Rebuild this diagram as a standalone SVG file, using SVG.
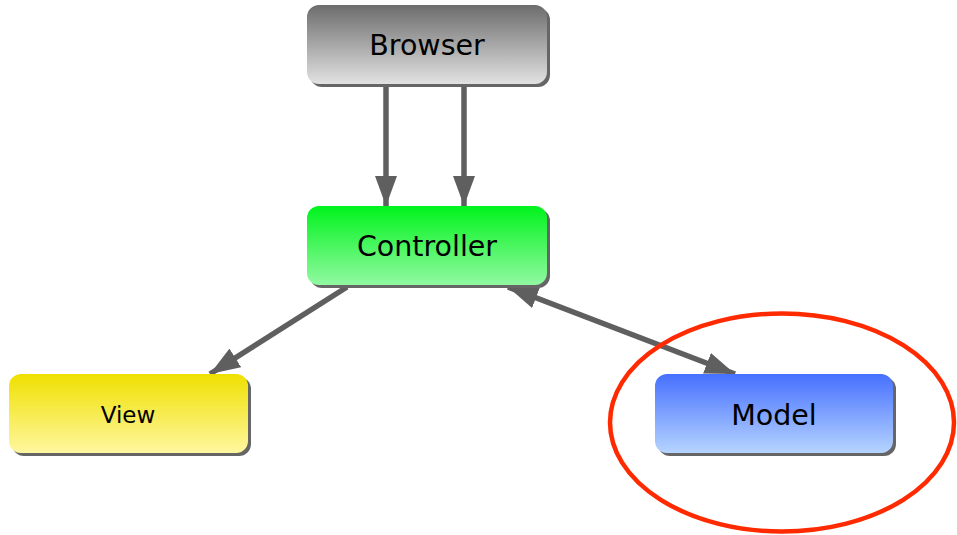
<svg xmlns="http://www.w3.org/2000/svg" width="957" height="535" viewBox="0 0 957 535">
<style>
.shadow{fill:#666666}
.lbl{font-family:"DejaVu Sans",Verdana,sans-serif;font-size:28.5px;fill:#000;text-anchor:middle}
.edge{stroke:#5f5f5f;stroke-width:5.5;fill:none}
</style>
<defs>
<linearGradient id="gBrowser" x1="0" y1="0" x2="0" y2="1"><stop offset="0" stop-color="#6c6c6c"/><stop offset="1" stop-color="#e2e2e2"/></linearGradient>
<linearGradient id="gCtrl" x1="0" y1="0" x2="0" y2="1"><stop offset="0" stop-color="#00f31c"/><stop offset="1" stop-color="#92f9a2"/></linearGradient>
<linearGradient id="gView" x1="0" y1="0" x2="0" y2="1"><stop offset="0" stop-color="#efe000"/><stop offset="1" stop-color="#fff7a0"/></linearGradient>
<linearGradient id="gModel" x1="0" y1="0" x2="0" y2="1"><stop offset="0" stop-color="#4670ff"/><stop offset="1" stop-color="#b6d4ff"/></linearGradient>
<marker id="arr" viewBox="0 0 30 22" refX="30" refY="11" markerWidth="30" markerHeight="22" markerUnits="userSpaceOnUse" orient="auto-start-reverse">
<path d="M0,0 L30,11 L0,22 Z" fill="#5f5f5f"/>
</marker>
</defs>
<g id="connectors">
<line class="edge" x1="386" y1="84" x2="386" y2="206" marker-end="url(#arr)"/>
<line class="edge" x1="464" y1="84" x2="464" y2="206" marker-end="url(#arr)"/>
<line class="edge" x1="347" y1="287" x2="210" y2="374" marker-end="url(#arr)"/>
<line class="edge" x1="508" y1="287" x2="735" y2="374" marker-start="url(#arr)" marker-end="url(#arr)"/>
</g>
<g id="browser">
<rect class="shadow" x="310" y="8" width="240" height="79" rx="12"/>
<rect x="307" y="5" width="240" height="79" rx="12" fill="url(#gBrowser)"/>
<text class="lbl" x="427" y="55">Browser</text>
</g>
<g id="controller">
<rect class="shadow" x="310" y="209" width="240" height="79" rx="12"/>
<rect x="307" y="206" width="240" height="79" rx="12" fill="url(#gCtrl)"/>
<text class="lbl" x="427" y="256">Controller</text>
</g>
<g id="view">
<rect class="shadow" x="12" y="377" width="239" height="79" rx="12"/>
<rect x="9" y="374" width="239" height="79" rx="12" fill="url(#gView)"/>
<text class="lbl" x="128" y="423" style="font-size:23px">View</text>
</g>
<g id="model">
<rect class="shadow" x="658" y="377" width="238" height="79" rx="12"/>
<rect x="655" y="374" width="238" height="79" rx="12" fill="url(#gModel)"/>
<text class="lbl" x="774" y="425">Model</text>
</g>
<g id="highlight">
<ellipse cx="782" cy="422.5" rx="172" ry="109" fill="none" stroke="#ff2a00" stroke-width="4.5"/>
</g>
</svg>
